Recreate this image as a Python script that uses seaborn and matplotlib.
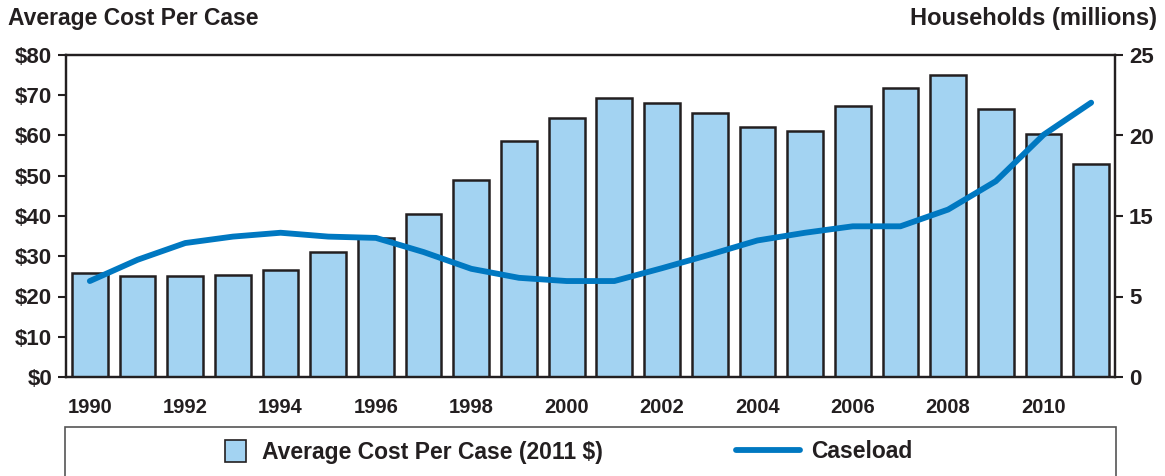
import numpy as np
import pandas as pd
import seaborn as sns
import matplotlib.pyplot as plt
from matplotlib.patches import Patch, Rectangle
from matplotlib.lines import Line2D

years = list(range(1990, 2012))
avg_cost = [25.8, 25.0, 25.0, 25.3, 26.6, 31.0, 34.6, 40.5, 48.9, 58.6, 64.4,
            69.3, 68.1, 65.6, 62.1, 61.0, 67.4, 71.8, 75.0, 66.6, 60.4, 52.9]
caseload = [7.45, 9.1, 10.4, 10.9, 11.2, 10.9, 10.8, 9.7, 8.4, 7.7, 7.45,
            7.45, 8.45, 9.5, 10.6, 11.2, 11.7, 11.7, 13.0, 15.2, 18.8, 21.3]
left_ticks = [0, 10, 20, 30, 40, 50, 60, 70, 80]
right_labels = ["0", "5", "15", "20", "25"]

df = pd.DataFrame({"year": [str(y) for y in years], "cost": avg_cost, "caseload": caseload})

sns.set_style("white")
plt.rcParams["font.family"] = ["Liberation Sans", "DejaVu Sans"]
plt.rcParams["font.weight"] = "bold"
ink = "#231F20"
bar_color = "#A3D3F2"
line_color = "#0078C1"

fig = plt.figure(figsize=(11.65, 4.76), dpi=100)
W, H = 1165, 476
ax = fig.add_axes([66 / W, 1 - 377 / H, (1115 - 66) / W, (377 - 55) / H])

sns.barplot(data=df, x="year", y="cost", color=bar_color, edgecolor=ink,
            linewidth=1.8, width=0.75, saturation=1, ax=ax)
ax.set_xlim(-0.5, len(years) - 0.5)
ax.set_ylim(0, 80)
ax.set_yticks(left_ticks)
ax.set_yticklabels([f"${v}" for v in left_ticks])

pos = np.arange(len(years))
ax.set_xticks(pos[::2])
ax.set_xticklabels([str(y) for y in years[::2]])
ax.set_xticks(np.arange(-0.5, len(years)), minor=True)
ax.tick_params(axis="x", which="major", length=0, pad=15, labelsize=14.5, colors=ink)
ax.tick_params(axis="x", which="minor", length=6, width=1.5, color=ink, direction="out")
ax.tick_params(axis="y", length=6, width=1.5, color=ink, labelsize=16, labelcolor=ink, pad=4)
ax.set_xlabel("")
ax.set_ylabel("")
for s in ax.spines.values():
    s.set_color(ink)
    s.set_linewidth(1.6)

ax2 = ax.twinx()
sns.lineplot(x=pos, y=df["caseload"], color=line_color, linewidth=4.2, ax=ax2)
ax2.set_ylim(0, 25)
ax2.set_yticks(np.linspace(0, 25, len(right_labels)))
ax2.set_yticklabels(right_labels)
ax2.tick_params(axis="y", length=6, width=1.5, color=ink, labelsize=16, labelcolor=ink, pad=4)
ax2.set_ylabel("")
for s in ax2.spines.values():
    s.set_color(ink)
    s.set_linewidth(1.6)

fig.text(8 / W, 1 - 18 / H, "Average Cost Per Case", ha="left", va="center",
         fontsize=16.5, fontweight="bold", color=ink)
fig.text(1157 / W, 1 - 18 / H, "Households (millions)", ha="right", va="center",
         fontsize=17, fontweight="bold", color=ink)

# legend box
fig.patches.append(Rectangle((65 / W, -0.05), (1116 - 65) / W, 0.05 + (1 - 427 / H),
                             transform=fig.transFigure, fill=False,
                             edgecolor="#555555", linewidth=1.2))
leg1 = fig.legend(handles=[Patch(facecolor=bar_color, edgecolor=ink, linewidth=1.2,
                                 label="Average Cost Per Case (2011 $)")],
                  loc="center left", bbox_to_anchor=(225 / W, 1 - 452 / H),
                  frameon=False, fontsize=16.5, handlelength=0.9, handleheight=1.1,
                  handletextpad=0.7, borderpad=0, borderaxespad=0)
leg2 = fig.legend(handles=[Line2D([], [], color=line_color, linewidth=4.2, label="Caseload")],
                  loc="center left", bbox_to_anchor=(736 / W, 1 - 452 / H),
                  frameon=False, fontsize=16.5, handlelength=2.8,
                  handletextpad=0.5, borderpad=0, borderaxespad=0)
for leg in (leg1, leg2):
    for t in leg.get_texts():
        t.set_color(ink)
        t.set_fontweight("bold")

fig.savefig("out.png", dpi=100)
